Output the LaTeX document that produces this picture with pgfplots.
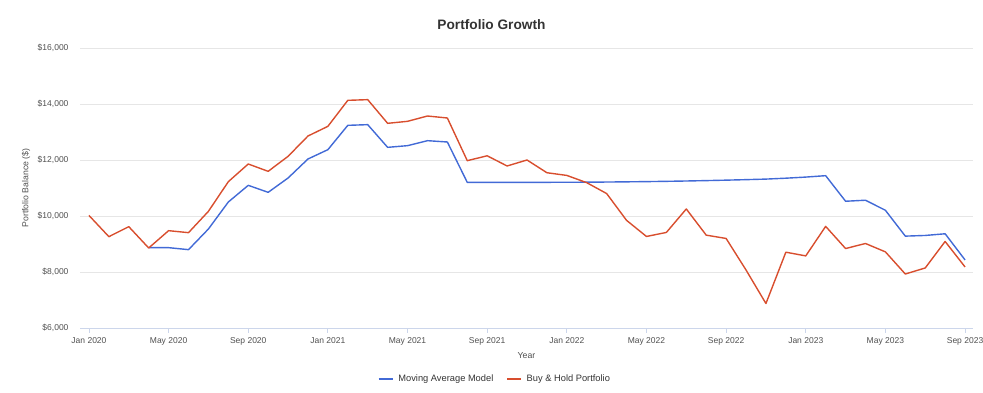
\documentclass[border=0pt]{standalone}
\usepackage{pgfplots}
\pgfplotsset{compat=1.18}
\usepackage{fontspec}
\setmainfont{Liberation Sans}
\definecolor{mablue}{RGB}{66,106,214}
\definecolor{bhred}{RGB}{216,78,46}
\definecolor{gridc}{RGB}{230,230,230}
\definecolor{axisc}{RGB}{204,214,235}
\definecolor{tickc}{RGB}{80,80,80}
\definecolor{titlec}{RGB}{51,51,51}
\begin{document}
\begin{tikzpicture}[x=1pt,y=1pt]
\useasboundingbox (0,0) rectangle (983,393);
\node[font=\fontsize{13.7}{16}\selectfont\bfseries, text=titlec] at (491.5,368) {Portfolio Growth};
\begin{axis}[
  at={(80pt,65pt)}, anchor=south west,
  scale only axis, width=893pt, height=280pt,
  xmin=-0.45, xmax=44.4, ymin=6000, ymax=16000,
  scaled y ticks=false,
  axis lines*=left,
  y axis line style={draw=none},
  x axis line style={draw=axisc, line width=0.8pt},
  ytick={6000,8000,10000,12000,14000,16000},
  yticklabels={{\$6,000},{\$8,000},{\$10,000},{\$12,000},{\$14,000},{\$16,000}},
  ytick style={draw=none},
  xtick={0,4,...,44},
  xticklabels={Jan 2020,May 2020,Sep 2020,Jan 2021,May 2021,Sep 2021,Jan 2022,May 2022,Sep 2022,Jan 2023,May 2023,Sep 2023},
  tick align=outside, major tick length=5pt,
  xtick style={draw=axisc, line width=0.8pt},
  ymajorgrids, grid style={draw=gridc, line width=0.8pt},
  ticklabel style={font=\fontsize{8.5}{10}\selectfont, text=tickc},
  xticklabel style={yshift=-1pt},
  yticklabel style={xshift=-3pt},
  xlabel={Year}, ylabel={Portfolio Balance (\$)},
  label style={font=\fontsize{8.7}{10}\selectfont, text=tickc},
  xlabel style={at={(axis description cs:0.5,-0.097)}, anchor=center},
  ylabel style={at={(axis description cs:-0.0605,0.5)}, anchor=center},
  legend columns=2,
  legend style={at={(axis description cs:0.4647,-0.182)}, anchor=center, draw=none, fill=none,
    font=\fontsize{9.3}{11}\selectfont, text=titlec, column sep=3pt,
    /tikz/every even column/.append style={column sep=11pt}},
  legend image code/.code={\draw[#1, line width=1.4pt] (0pt,0pt) -- (14pt,0pt);},
  every axis plot/.append style={line width=1.4pt, line join=round, mark=none},
]
\addplot[mablue] coordinates {
(3,8869) (4,8869) (5,8798) (6,9536) (7,10500) (8,11095) (9,10845) (10,11357)
(11,12036) (12,12369) (13,13238) (14,13262) (15,12452) (16,12512) (17,12690)
(18,12643) (19,11200) (20,11200) (21,11201) (22,11202) (23,11203) (24,11205)
(25,11208) (26,11213) (27,11220) (28,11228) (29,11238) (30,11250) (31,11264)
(32,11280) (33,11298) (34,11318) (35,11350) (36,11390) (37,11440) (38,10527)
(39,10563) (40,10204) (41,9281) (42,9305) (43,9365) (44,8431)
};
\addlegendentry{Moving Average Model}
\addplot[bhred] coordinates {
(0,10020) (1,9262) (2,9619) (3,8857) (4,9476) (5,9405) (6,10167) (7,11226)
(8,11857) (9,11595) (10,12131) (11,12857) (12,13202) (13,14131) (14,14155)
(15,13310) (16,13381) (17,13571) (18,13500) (19,11976) (20,12150) (21,11786)
(22,12000) (23,11545) (24,11449) (25,11190) (26,10802) (27,9844) (28,9269)
(29,9413) (30,10251) (31,9317) (32,9198) (33,8072) (34,6874) (35,8707)
(36,8575) (37,9629) (38,8838) (39,9018) (40,8719) (41,7928) (42,8144)
(43,9090) (44,8180)
};
\addlegendentry{Buy \& Hold Portfolio}
\end{axis}
\end{tikzpicture}
\end{document}
